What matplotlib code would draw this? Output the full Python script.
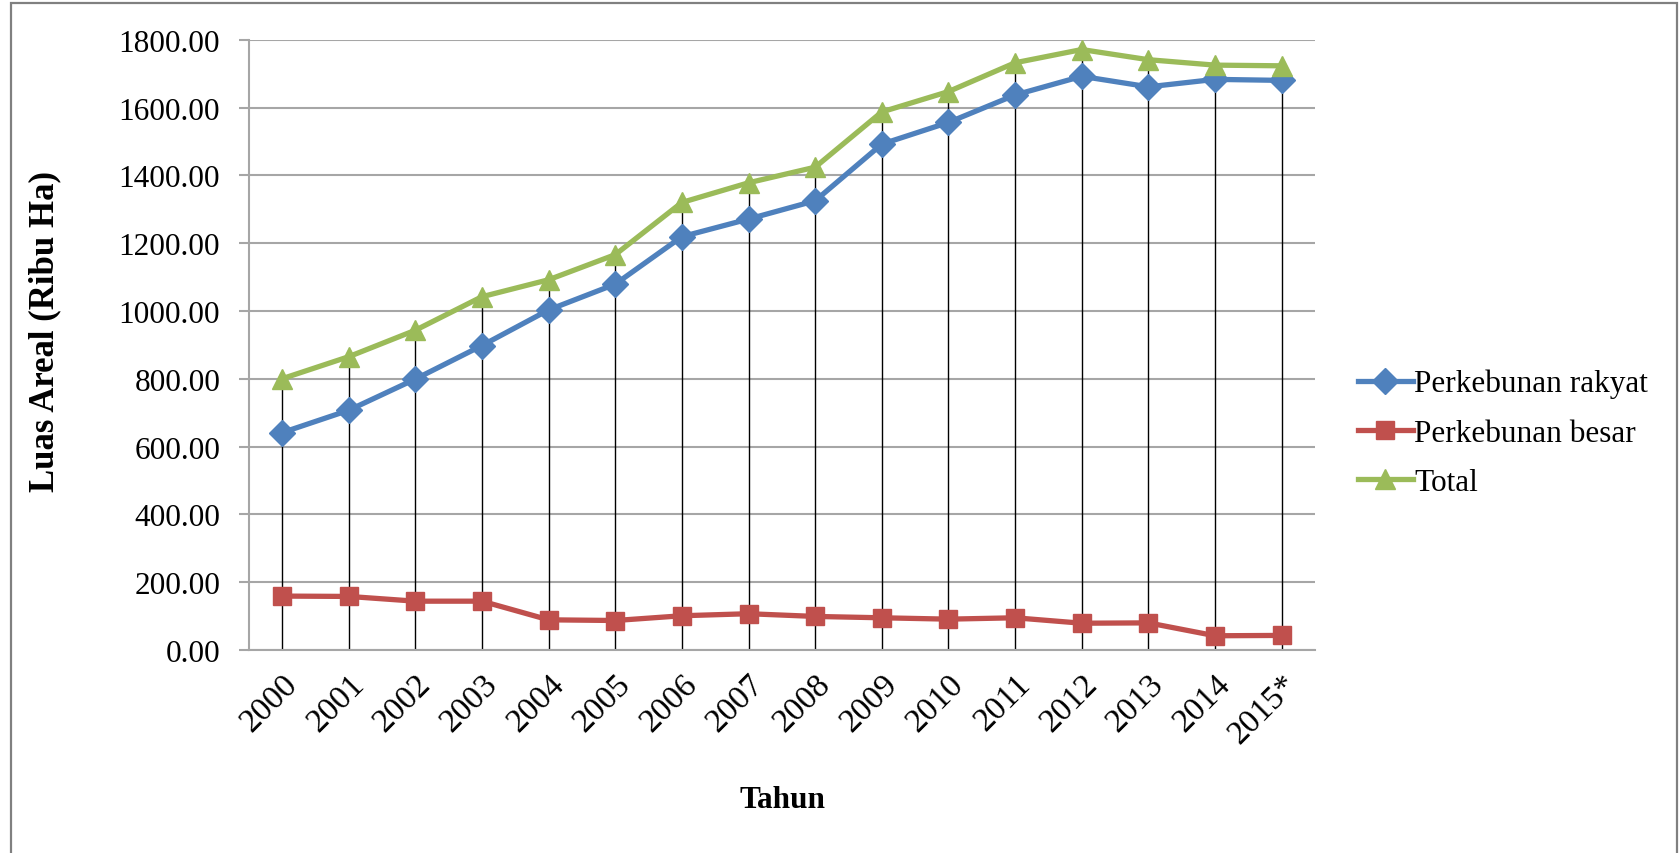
import matplotlib
matplotlib.use("Agg")
import matplotlib.pyplot as plt
from matplotlib.patches import Rectangle
from matplotlib.ticker import FormatStrFormatter

years = ["2000", "2001", "2002", "2003", "2004", "2005", "2006", "2007",
         "2008", "2009", "2010", "2011", "2012", "2013", "2014", "2015*"]
rakyat = [641, 707, 799, 898, 1003, 1079, 1219, 1271, 1325, 1492, 1556, 1637, 1692, 1661, 1683, 1680]
besar = [159, 158, 144, 144, 89, 87, 101, 107, 99, 95, 91, 95, 79, 80, 42, 43]
total = [800, 865, 943, 1042, 1092, 1166, 1320, 1378, 1424, 1587, 1647, 1732, 1771, 1741, 1725, 1723]
yticks = [0, 200, 400, 600, 800, 1000, 1200, 1400, 1600, 1800]

series_names = ["Perkebunan rakyat", "Perkebunan besar", "Total"]
colors = ["#4F81BD", "#C0504D", "#9BBB59"]
markers = ["D", "s", "^"]

plt.rcParams['font.family'] = ['Liberation Serif', 'DejaVu Serif']

W, H = 1679, 854
fig = plt.figure(figsize=(W / 100, H / 100), dpi=100)
fig.patch.set_facecolor("white")

# outer border
fig.patches.append(Rectangle((11 / W, -0.05), (1677 - 11) / W, (H - 4) / H + 0.05,
                             transform=fig.transFigure, fill=False,
                             edgecolor="#808080", linewidth=1.6))

ax = fig.add_axes([248.7 / W, (H - 651) / H, (1315 - 248.7) / W, (651 - 40.7) / H])

x = list(range(len(years)))
ax.vlines(x, 0, total, colors="black", linewidth=1.0, zorder=2)

sizes = [13, 13.5, 14]
for vals, name, c, m, s in zip([rakyat, besar, total], series_names, colors, markers, sizes):
    ax.plot(x, vals, color=c, marker=m, markersize=s, linewidth=3.8,
            label=name, zorder=3, markeredgecolor=c)

ax.set_xlim(-0.5, len(years) - 0.5)
ax.set_ylim(0, 1800)
ax.set_yticks(yticks)
ax.yaxis.set_major_formatter(FormatStrFormatter("%.2f"))
ax.grid(axis="y", color="#A6A6A6", linewidth=1.5, zorder=0)
ax.set_axisbelow(True)

for side in ["top", "right"]:
    ax.spines[side].set_visible(False)
ax.spines["left"].set_color("#A6A6A6")
ax.spines["left"].set_linewidth(1.5)
ax.spines["bottom"].set_color("#A6A6A6")
ax.spines["bottom"].set_linewidth(1.5)

ax.tick_params(axis="y", length=7.5, width=1.5, color="#A6A6A6", labelsize=22.5, pad=13)
ax.tick_params(axis="x", length=0, labelsize=24, pad=13)
ax.set_xticks(x)
ax.set_xticklabels(years, rotation=45, ha="right", va="top", rotation_mode="anchor")

fig.text(45 / W, 1 - 332 / H, "Luas Areal (Ribu Ha)", fontsize=25, fontweight="bold",
         rotation=90, ha="center", va="center")
fig.text(782 / W, 1 - 801 / H, "Tahun", fontsize=22.5, fontweight="bold",
         ha="center", va="center")

leg = ax.legend(loc="center left", bbox_to_anchor=(1358 / W, 1 - 434 / H),
                bbox_transform=fig.transFigure, frameon=False, fontsize=22.5,
                handlelength=1.75, handletextpad=0.05, labelspacing=0.65,
                borderpad=0, borderaxespad=0)

fig.savefig("out.png", dpi=100, facecolor="white")
